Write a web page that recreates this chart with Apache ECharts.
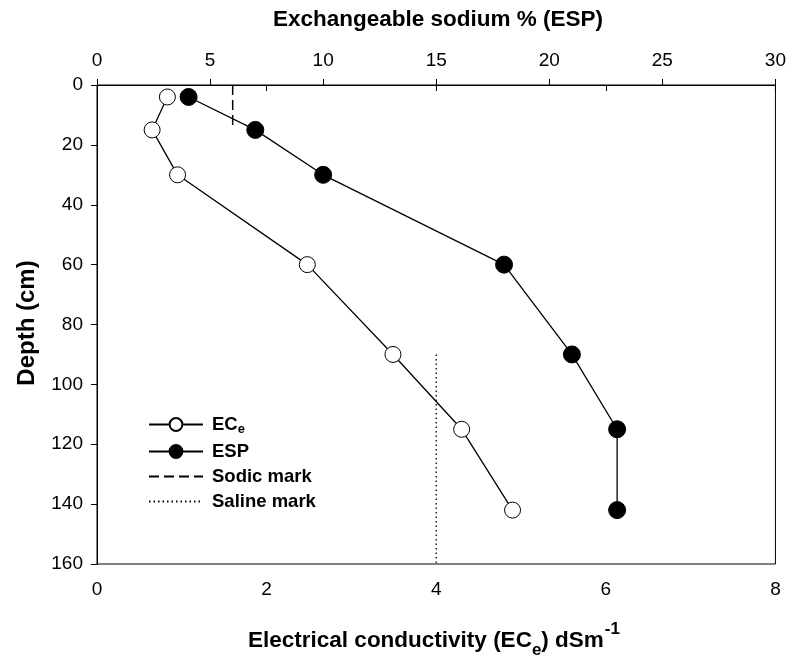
<!DOCTYPE html>
<html><head><meta charset="utf-8">
<script src="https://cdn.jsdelivr.net/npm/echarts@6/dist/echarts.min.js"></script>
<style>html,body{margin:0;padding:0;background:#fff}#c{width:789px;height:657px}</style>
</head><body><div id="c"></div>
<script>
// Data (depth in cm)
const depth = [4, 15, 30, 60, 90, 115, 142];
const ece = [0.83, 0.65, 0.95, 2.48, 3.49, 4.30, 4.90];   // dS/m
const esp = [4.05, 7.0, 10.0, 18.0, 21.0, 23.0, 23.0];    // %
const sodicMarkX = [6, 6];      // ESP
const sodicMarkDepth = [0, 15];
const salineMarkX = [4, 4];     // ECe
const salineMarkDepth = [90, 160];
// Axis ticks
const eceTicks = [0, 2, 4, 6, 8];
const espTicks = [0, 5, 10, 15, 20, 25, 30];
const depthTicks = [0, 20, 40, 60, 80, 100, 120, 140, 160];

const FONT = 'Liberation Sans, Arial, sans-serif';
const pairs = (xs, ys) => xs.map((x, i) => [x, ys[i]]);

function axisBase(margin) {
  return {
    axisLine: { show: true, lineStyle: { color: '#000', width: 1 } },
    axisTick: { show: true, inside: false, length: 6, lineStyle: { color: '#000', width: 1 } },
    axisLabel: { color: '#000', fontSize: 19, fontFamily: FONT, margin: margin },
    splitLine: { show: false }
  };
}

const chart = echarts.init(document.getElementById('c'), null, { renderer: 'canvas' });
chart.setOption({
  backgroundColor: '#fff',
  animation: false,
  grid: { left: 97, right: 10, top: 85, bottom: 93, show: true, borderColor: '#000', borderWidth: 1, backgroundColor: 'transparent' },
  xAxis: [
    Object.assign(axisBase(16), {
      type: 'value', position: 'bottom',
      min: eceTicks[0], max: eceTicks[eceTicks.length - 1], interval: eceTicks[1] - eceTicks[0]
    }),
    Object.assign(axisBase(15), {
      type: 'value', position: 'top',
      min: espTicks[0], max: espTicks[espTicks.length - 1], interval: espTicks[1] - espTicks[0]
    })
  ],
  yAxis: [
    Object.assign(axisBase(14), {
      type: 'value', inverse: true,
      min: depthTicks[0], max: depthTicks[depthTicks.length - 1], interval: depthTicks[1] - depthTicks[0]
    })
  ],
  legend: {
    orient: 'vertical', left: 143, top: 410,
    itemWidth: 54, itemHeight: 16, itemGap: 6,
    data: ['ECe', 'ESP', 'Sodic mark', 'Saline mark'],
    formatter: function (n) { return n === 'ECe' ? '{b|EC}{s|e}' : '{b|' + n + '}'; },
    textStyle: {
      color: '#000', fontFamily: FONT, fontSize: 18.5, fontWeight: 'bold', padding: [0, 0, 0, 4],
      rich: {
        b: { fontSize: 18.5, fontWeight: 'bold', fontFamily: FONT, color: '#000' },
        s: { fontSize: 13, fontWeight: 'bold', fontFamily: FONT, color: '#000', padding: [10, 0, 0, 0] }
      }
    }
  },
  graphic: [
    {
      type: 'text', x: 438, y: 20,
      style: { text: 'Exchangeable sodium % (ESP)', font: 'bold 22.5px ' + FONT, fill: '#000', align: 'center', verticalAlign: 'middle' }
    },
    {
      type: 'text', x: 434, y: 633,
      style: {
        text: '{a|Electrical conductivity (EC}{s|e}{a|) dSm}{p|-1}',
        align: 'center', verticalAlign: 'middle',
        rich: {
          a: { fontSize: 22.5, fontWeight: 'bold', fontFamily: FONT, fill: '#000', lineHeight: 24, padding: [8, 0, 0, 0], verticalAlign: 'top' },
          s: { fontSize: 17, fontWeight: 'bold', fontFamily: FONT, fill: '#000', lineHeight: 16, padding: [21, 0, 0, 0], verticalAlign: 'top' },
          p: { fontSize: 17, fontWeight: 'bold', fontFamily: FONT, fill: '#000', lineHeight: 14, padding: [0, 0, 0, 1], verticalAlign: 'top' }
        }
      }
    },
    {
      type: 'text', x: 27, y: 323, rotation: Math.PI / 2,
      style: { text: 'Depth (cm)', font: 'bold 24px ' + FONT, fill: '#000', align: 'center', verticalAlign: 'middle' }
    }
  ],
  series: [
    {
      name: 'Sodic mark', type: 'line', xAxisIndex: 1, yAxisIndex: 0,
      data: pairs(sodicMarkX, sodicMarkDepth), symbol: 'none',
      itemStyle: { color: 'rgba(0,0,0,0)', borderWidth: 0 },
      lineStyle: { color: '#000', width: 1.5, type: [10, 5] }, z: 1
    },
    {
      name: 'Saline mark', type: 'line', xAxisIndex: 0, yAxisIndex: 0,
      data: pairs(salineMarkX, salineMarkDepth), symbol: 'none',
      itemStyle: { color: 'rgba(0,0,0,0)', borderWidth: 0 },
      lineStyle: { color: '#000', width: 1.3, type: [1.5, 3] }, z: 1
    },
    {
      name: 'ECe', type: 'line', xAxisIndex: 0, yAxisIndex: 0,
      data: pairs(ece, depth), symbol: 'circle', symbolSize: 16,
      lineStyle: { color: '#000', width: 1.3 },
      itemStyle: { color: '#fff', borderColor: '#000', borderWidth: 1 }, z: 3
    },
    {
      name: 'ESP', type: 'line', xAxisIndex: 1, yAxisIndex: 0,
      data: pairs(esp, depth), symbol: 'circle', symbolSize: 17,
      lineStyle: { color: '#000', width: 1.3 },
      itemStyle: { color: '#000', borderColor: '#000', borderWidth: 1 }, z: 3
    }
  ]
});
</script></body></html>
